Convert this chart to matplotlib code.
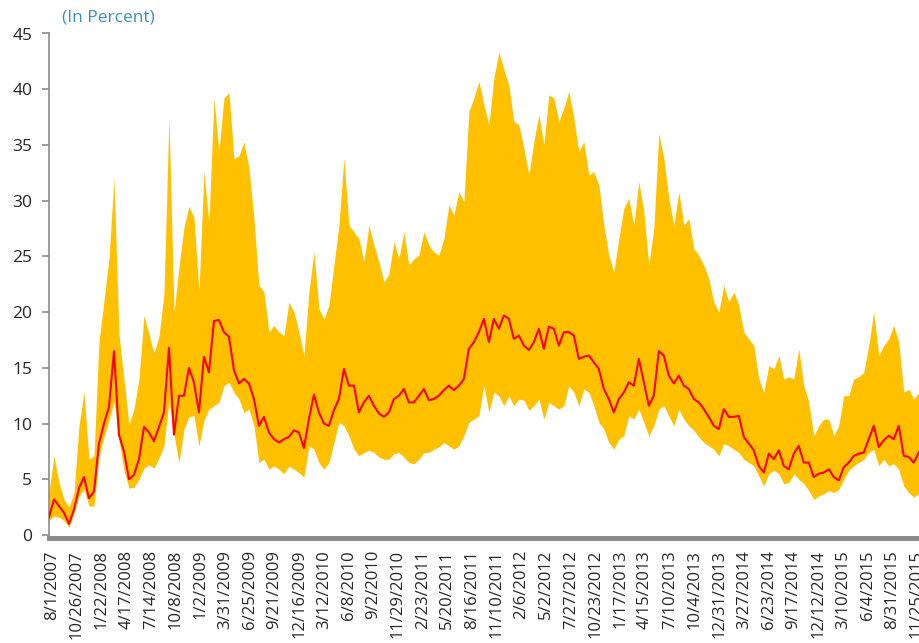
import numpy as np
import matplotlib
matplotlib.use("Agg")
import matplotlib.pyplot as plt

# ---------------- data ----------------
tick_labels = [
    "8/1/2007", "10/26/2007", "1/22/2008", "4/17/2008", "7/14/2008", "10/8/2008",
    "1/2/2009", "3/31/2009", "6/25/2009", "9/21/2009", "12/16/2009", "3/12/2010",
    "6/8/2010", "9/2/2010", "11/29/2010", "2/23/2011", "5/20/2011", "8/16/2011",
    "11/10/2011", "2/6/2012", "5/2/2012", "7/27/2012", "10/23/2012", "1/17/2013",
    "4/15/2013", "7/10/2013", "10/4/2013", "12/31/2013", "3/27/2014", "6/23/2014",
    "9/17/2014", "12/12/2014", "3/10/2015", "6/4/2015", "8/31/2015", "11/25/2015",
]

# upper bound of the range (percent)
upper = [
    3.8, 7.1, 4.7, 3.2, 2.5, 3.8, 9.8, 12.8, 6.8, 7.1, 17.3, 21.0, 24.8, 32.0, 18.0,
    14.0, 9.9, 11.3, 14.0, 19.7, 18.0, 16.3, 17.8, 21.6, 37.5, 20.0, 24.0, 27.6, 29.5,
    28.5, 21.8, 32.6, 28.0, 39.2, 34.4, 39.2, 39.7, 33.8, 34.0, 35.3, 32.9, 28.4, 22.4,
    21.8, 18.2, 18.8, 18.2, 17.9, 20.9, 20.0, 18.2, 16.1, 21.8, 25.4, 20.3, 19.4, 20.6, 24.2,
    27.8, 33.8, 27.8, 27.2, 26.6, 24.5, 27.8, 26.0, 24.5, 22.7, 23.4, 26.3, 24.8, 27.2,
    24.2, 24.8, 25.1, 27.2, 26.0, 25.4, 25.1, 26.6, 29.6, 28.7, 30.8, 29.9, 38.0, 39.2, 40.7,
    38.6, 36.8, 41.0, 43.3, 41.8, 40.3, 37.1, 36.8, 34.7, 32.3, 35.3, 37.7, 35.0, 39.5,
    39.2, 37.1, 38.3, 39.8, 37.4, 34.4, 35.3, 32.3, 32.6, 31.4, 27.8, 25.1, 23.6, 26.6, 29.3,
    30.2, 27.8, 31.7, 29.0, 24.2, 27.5, 36.0, 33.8, 30.2, 27.8, 30.8, 27.8, 28.4, 25.7,
    25.1, 24.2, 23.0, 20.9, 20.0, 22.4, 20.9, 21.8, 20.6, 18.2, 17.6, 17.0, 14.0, 12.8, 15.2,
    14.9, 16.1, 14.0, 14.2, 14.0, 16.7, 13.4, 11.9, 8.9, 9.8, 10.4, 10.4, 8.9, 9.8, 12.5,
    12.5, 14.0, 14.2, 14.6, 17.0, 20.0, 16.1, 17.0, 17.6, 18.8, 17.3, 12.8, 13.1, 12.2, 12.8,
]

# median (percent)
median = [
    1.6, 3.2, 2.6, 2.0, 1.0, 2.3, 4.2, 5.2, 3.3, 3.9, 8.2, 10.0, 11.5, 16.5, 9.0,
    7.5, 5.0, 5.4, 6.8, 9.7, 9.2, 8.4, 9.7, 11.0, 16.8, 9.0, 12.5, 12.5, 15.0,
    13.7, 11.0, 16.0, 14.6, 19.2, 19.3, 18.2, 17.8, 14.8, 13.6, 14.0, 13.6, 12.2, 9.8,
    10.6, 9.2, 8.6, 8.3, 8.6, 8.8, 9.4, 9.2, 7.8, 10.4, 12.6, 11.0, 10.0, 9.8, 11.2,
    12.2, 14.9, 13.4, 13.4, 11.0, 11.9, 12.5, 11.6, 10.9, 10.6, 11.0, 12.2, 12.5, 13.1,
    11.9, 11.9, 12.5, 13.1, 12.1, 12.2, 12.5, 13.0, 13.4, 13.0, 13.4, 14.0, 16.7, 17.3, 18.2,
    19.4, 17.3, 19.4, 18.5, 19.7, 19.4, 17.6, 17.9, 17.0, 16.6, 17.3, 18.5, 16.7, 18.7,
    18.5, 17.0, 18.2, 18.2, 17.9, 15.8, 16.0, 16.1, 15.5, 14.9, 13.1, 12.2, 11.0, 12.2, 12.8,
    13.7, 13.4, 15.8, 13.7, 11.6, 12.5, 16.5, 16.1, 14.3, 13.6, 14.3, 13.4, 13.1, 12.2,
    11.9, 11.3, 10.6, 9.8, 9.5, 11.3, 10.6, 10.6, 10.7, 8.8, 8.2, 7.6, 6.2, 5.6, 7.3,
    6.8, 7.6, 6.2, 5.9, 7.3, 8.0, 6.5, 6.5, 5.2, 5.5, 5.6, 5.9, 5.2, 4.9, 6.1,
    6.5, 7.1, 7.3, 7.4, 8.6, 9.8, 7.9, 8.5, 8.9, 8.6, 9.8, 7.1, 7.0, 6.5, 7.4,
]

# lower bound of the range (percent)
lower = [
    1.3, 1.7, 1.6, 1.3, 0.7, 1.9, 3.5, 4.1, 2.6, 2.6, 7.0, 8.8, 10.3, 12.0, 8.5,
    5.8, 4.2, 4.3, 5.0, 6.0, 6.3, 6.0, 6.9, 8.0, 12.0, 9.0, 6.5, 9.5, 10.6,
    10.7, 8.0, 10.3, 11.3, 11.6, 11.9, 13.4, 13.7, 12.8, 12.2, 11.0, 11.3, 9.8, 6.5,
    6.8, 5.9, 6.2, 5.9, 5.5, 6.2, 5.9, 5.6, 5.2, 8.0, 7.7, 6.5, 5.9, 6.5, 8.3,
    10.1, 9.8, 8.9, 7.7, 7.1, 7.4, 7.6, 7.4, 7.0, 6.8, 6.8, 7.3, 7.4, 7.0,
    6.5, 6.4, 6.8, 7.4, 7.4, 7.7, 7.9, 8.3, 8.0, 7.7, 8.0, 8.9, 10.1, 10.4, 10.7,
    13.4, 11.0, 12.8, 12.5, 11.6, 12.5, 11.6, 12.2, 12.1, 11.2, 11.6, 12.2, 10.4, 11.9,
    11.6, 11.3, 11.6, 13.4, 12.8, 11.6, 13.1, 12.8, 11.6, 10.1, 9.5, 8.3, 7.7, 8.6, 8.9,
    10.7, 10.4, 11.3, 10.1, 8.9, 9.8, 11.3, 11.6, 10.7, 9.8, 11.3, 10.4, 9.8, 9.4,
    8.8, 8.3, 8.0, 7.7, 7.1, 8.2, 8.0, 7.7, 7.4, 6.8, 6.5, 6.2, 5.3, 4.4, 5.5,
    5.8, 5.5, 4.6, 4.7, 5.5, 5.0, 4.6, 4.0, 3.2, 3.5, 3.7, 4.0, 3.8, 4.1, 5.0,
    5.8, 6.2, 6.5, 6.8, 7.4, 7.7, 6.2, 6.8, 6.2, 6.4, 5.9, 4.4, 3.8, 3.4, 3.7,
]

# ---------------- axis geometry (business-day index) ----------------
TICK_EVERY = 62          # business days between date labels
SAMPLE_EVERY = 12.54     # business days between data samples
FIRST_SAMPLE = -7.5      # first sample, business days before 8/1/2007

x = FIRST_SAMPLE + SAMPLE_EVERY * np.arange(len(upper))
ticks = TICK_EVERY * np.arange(len(tick_labels))

# ---------------- figure ----------------
plt.rcParams["font.family"] = ["Open Sans", "DejaVu Sans"]

fig = plt.figure(figsize=(9.2, 6.43), dpi=100)
ax = fig.add_axes([49 / 920, 108 / 643, 871 / 920, 501.5 / 643])

ax.fill_between(x, lower, upper, color="#FFC000", linewidth=0, zorder=2)
ax.plot(x, median, color="#FF0000", linewidth=1.5, zorder=3)

ax.set_xlim(-7.5, 2177.6)
ax.set_ylim(0, 45)
ax.set_yticks(np.arange(0, 46, 5))
ax.set_xticks(ticks)
ax.set_xticklabels(tick_labels)

for s in ("top", "right"):
    ax.spines[s].set_visible(False)
ax.spines["left"].set_color("#8C8C8C")
ax.spines["left"].set_linewidth(1.2)
ax.spines["bottom"].set_color("#8C8C8C")
ax.spines["bottom"].set_linewidth(3.6)
ax.spines["bottom"].set_position(("outward", 1.8))
ax.spines["bottom"].set_zorder(4)

ax.tick_params(axis="y", length=5, width=1.2, color="#8C8C8C", pad=7,
               labelsize=12.5, labelcolor="#262626")
ax.tick_params(axis="x", length=0, pad=9, labelsize=12, labelcolor="#262626",
               labelrotation=90)
for lbl in ax.get_xticklabels():
    lbl.set_va("top")
    lbl.set_ha("center")

fig.text(62 / 920, 1 - 17 / 643, "(In Percent)", color="#3A8DD0", fontsize=12.5,
         ha="left", va="center")

fig.savefig("out.png", dpi=100)
